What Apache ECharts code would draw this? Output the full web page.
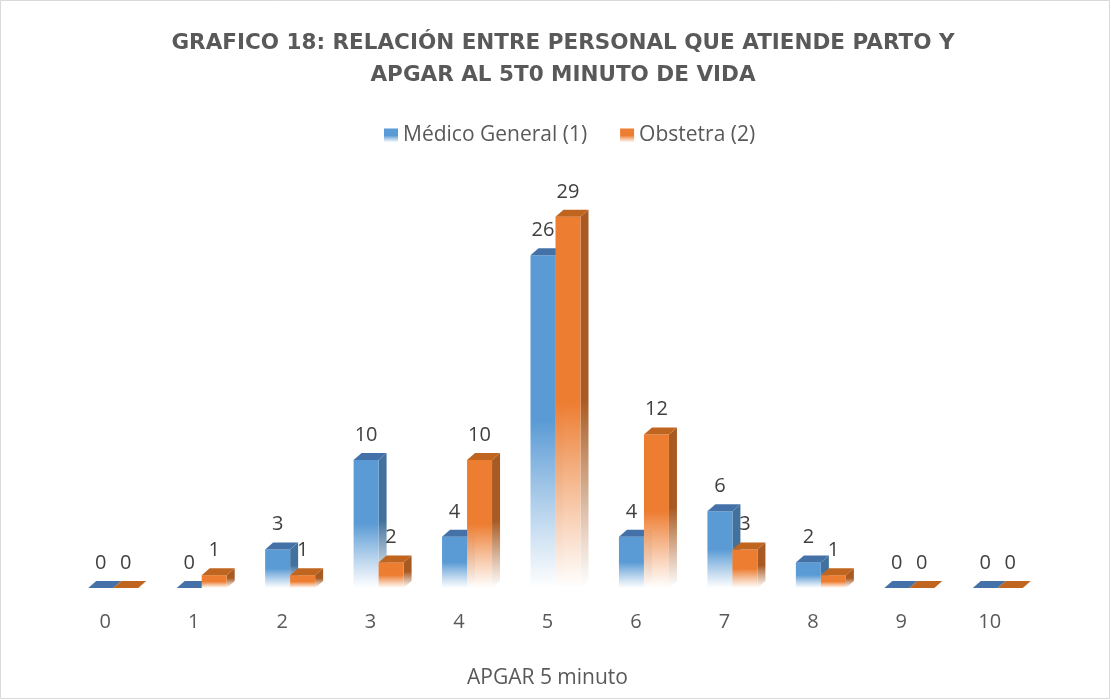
<!DOCTYPE html>
<html>
<head>
<meta charset="utf-8">
<script src="https://cdn.jsdelivr.net/npm/echarts@6/dist/echarts.min.js"></script>
<style>
    html, body {margin: 0; padding: 0; background: #fff;}
    #main {width: 1111px; height: 700px;}
</style>
</head>
<body>
<div id="main"></div>
<script>
var categories = ['0', '1', '2', '3', '4', '5', '6', '7', '8', '9', '10'];
var medicoGeneral = [0, 0, 3, 10, 4, 26, 4, 6, 2, 0, 0];
var obstetra = [0, 1, 1, 2, 10, 29, 12, 3, 1, 0, 0];

var chart = echarts.init(document.getElementById('main'));

// degradado vertical: color arriba, blanco abajo
function fade(color) {
    return new echarts.graphic.LinearGradient(0, 0, 0, 1, [
        {offset: 0, color: color},
        {offset: 0.5, color: color},
        {offset: 1, color: 'rgba(255,255,255,0.9)'}
    ]);
}

// barra con efecto 3D: cara frontal, lateral y superior
function bar3d(offset, front, side, top) {
    return function (params, api) {
        var v = api.value(1);
        var base = api.coord([api.value(0), 0]);
        var p = api.coord([api.value(0), v]);
        var x = base[0] + offset, y0 = base[1], y1 = p[1];
        var w = 25, dx = 8, dy = -7;
        return {
            type: 'group',
            children: [
                {
                    type: 'polygon',
                    shape: {points: [[x + w, y1], [x + w + dx, y1 + dy], [x + w + dx, y0 + dy], [x + w, y0]]},
                    style: {fill: fade(side)}
                },
                {
                    type: 'rect',
                    shape: {x: x, y: y1, width: w, height: y0 - y1},
                    style: {fill: fade(front)}
                },
                {
                    type: 'polygon',
                    shape: {points: [[x, y1], [x + dx, y1 + dy], [x + w + dx, y1 + dy], [x + w, y1]]},
                    style: {fill: top}
                },
                {
                    type: 'text',
                    style: {
                        text: String(v), x: x + w / 2, y: y1 - 25,
                        align: 'center', verticalAlign: 'middle',
                        fill: '#404040', fontSize: 20, fontFamily: 'Open Sans'
                    }
                }
            ]
        };
    };
}

function toData(arr) {
    var out = [];
    for (var i = 0; i < arr.length; i++) out.push([i, arr[i]]);
    return out;
}

var option = {
    animation: false,
    backgroundColor: '#fff',
    title: {
        text: 'GRAFICO 18: RELACIÓN ENTRE PERSONAL QUE ATIENDE PARTO Y\nAPGAR AL 5T0 MINUTO DE VIDA',
        left: 558,
        textAlign: 'center',
        top: 22,
        textStyle: {
            color: '#595959', fontSize: 21.5, fontWeight: 'bold',
            fontFamily: 'DejaVu Sans', lineHeight: 32
        }
    },
    legend: {
        top: 120,
        left: 379,
        itemWidth: 14,
        itemHeight: 14,
        itemGap: 33,
        icon: 'rect',
        textStyle: {color: '#595959', fontSize: 21, fontFamily: 'Open Sans'},
        data: ['Médico General (1)', 'Obstetra (2)']
    },
    grid: {left: 61, right: 77, top: 140, bottom: 112},
    xAxis: {
        type: 'category',
        data: categories,
        name: 'APGAR 5 minuto',
        nameLocation: 'middle',
        nameGap: 80,
        nameTextStyle: {color: '#595959', fontSize: 21, fontFamily: 'Open Sans'},
        axisLine: {show: false},
        axisTick: {show: false},
        axisLabel: {color: '#595959', fontSize: 20, fontFamily: 'Open Sans', margin: 24}
    },
    yAxis: {
        type: 'value', min: 0, max: 35, show: false
    },
    series: [
        {
            name: 'Médico General (1)',
            type: 'custom',
            renderItem: bar3d(-17, '#5B9BD5', '#41719C', '#4472A8'),
            itemStyle: {color: fade('#5B9BD5')},
            encode: {x: 0, y: 1},
            data: toData(medicoGeneral)
        },
        {
            name: 'Obstetra (2)',
            type: 'custom',
            renderItem: bar3d(8, '#ED7D31', '#A85A22', '#C0651F'),
            itemStyle: {color: fade('#ED7D31')},
            encode: {x: 0, y: 1},
            data: toData(obstetra)
        }
    ],
    graphic: [{
        type: 'rect',
        shape: {x: 0.5, y: 0.5, width: 1109, height: 698},
        style: {fill: 'none', stroke: '#D9D9D9', lineWidth: 1}
    }]
};

chart.setOption(option);
</script>
</body>
</html>
